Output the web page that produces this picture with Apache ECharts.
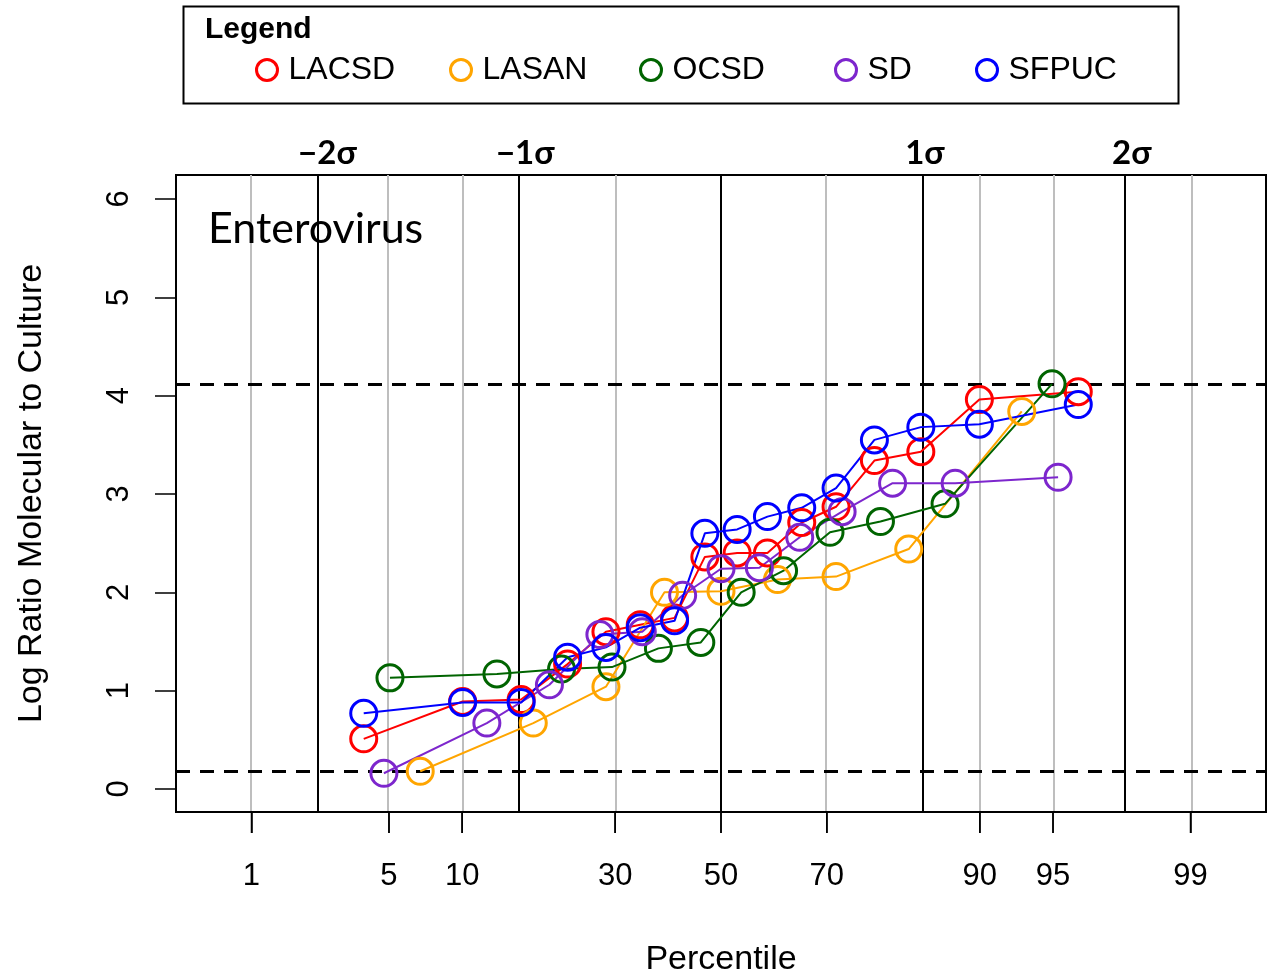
<!DOCTYPE html>
<html>
<head>
<meta charset="utf-8">
<script src="https://cdn.jsdelivr.net/npm/echarts@6/dist/echarts.min.js"></script>
<style>html,body{margin:0;padding:0;background:#fff;}#c{width:1281px;height:973px;}</style>
</head>
<body>
<div id="c"></div>
<script>
// Percentile tick labels and their normal-quantile positions (z)
const pctLabels = ['1', '5', '10', '30', '50', '70', '90', '95', '99'];
const pctZ = [-2.326, -1.645, -1.282, -0.524, 0, 0.524, 1.282, 1.645, 2.326];
const sigmaZ = [-2, -1, 0, 1, 2];
const sigmaLabelPos = [-1.95, -0.97, 1.01, 2.035];
const sigmaLabels = ['−2σ', '−1σ', '1σ', '2σ'];
const yTicks = [0, 1, 2, 3, 4, 5, 6];
const thresholds = [0.176, 4.116];
const yMin = -0.234, yMax = 6.244;

const seriesNames = ['LACSD', 'LASAN', 'OCSD', 'SD', 'SFPUC'];
const seriesColors = ['#ff0000', '#ffa500', '#006400', '#7d26cd', '#0000ff'];

// x = normal quantile (z) of each point, y = log ratio
const zLACSD = [-1.77, -1.28, -0.99, -0.76, -0.57, -0.40, -0.23, -0.08, 0.08, 0.23, 0.40, 0.57, 0.76, 0.99, 1.28, 1.77];
const yLACSD = [0.51, 0.89, 0.91, 1.27, 1.60, 1.67, 1.74, 2.36, 2.40, 2.40, 2.71, 2.87, 3.34, 3.43, 3.96, 4.04];
const zLASAN = [-1.49, -0.93, -0.57, -0.28, 0, 0.28, 0.57, 0.93, 1.49];
const yLASAN = [0.18, 0.67, 1.04, 2.00, 2.01, 2.13, 2.16, 2.44, 3.84];
const zOCSD = [-1.64, -1.11, -0.79, -0.54, -0.31, -0.10, 0.10, 0.31, 0.54, 0.79, 1.11, 1.64];
const yOCSD = [1.13, 1.17, 1.22, 1.24, 1.43, 1.49, 2.00, 2.22, 2.61, 2.72, 2.90, 4.12];
const zSD = [-1.67, -1.16, -0.85, -0.60, -0.39, -0.19, 0, 0.19, 0.39, 0.60, 0.85, 1.16, 1.67];
const ySD = [0.16, 0.67, 1.06, 1.57, 1.60, 1.97, 2.24, 2.25, 2.56, 2.82, 3.11, 3.11, 3.17];
const zSFPUC = [-1.77, -1.28, -0.99, -0.76, -0.57, -0.40, -0.23, -0.08, 0.08, 0.23, 0.40, 0.57, 0.76, 0.99, 1.28, 1.77];
const ySFPUC = [0.77, 0.88, 0.88, 1.34, 1.44, 1.64, 1.71, 2.60, 2.64, 2.77, 2.86, 3.06, 3.55, 3.68, 3.71, 3.91];

const zs = [zLACSD, zLASAN, zOCSD, zSD, zSFPUC];
const ys = [yLACSD, yLASAN, yOCSD, ySD, ySFPUC];

const legendLefts = [250, 444, 634, 829, 970];

const chart = echarts.init(document.getElementById('c'), null, {renderer: 'canvas'});

function pctFormatter(v) {
  for (let i = 0; i < pctZ.length; i++) if (Math.abs(pctZ[i] - v) < 1e-6) return pctLabels[i];
  return '';
}
function sigmaFormatter(v) {
  for (let i = 0; i < sigmaLabelPos.length; i++) if (Math.abs(sigmaLabelPos[i] - v) < 1e-6) return sigmaLabels[i];
  return '';
}

const dataSeries = seriesNames.map((name, k) => ({
  name: name,
  type: 'line',
  z: 5,
  data: zs[k].map((z, i) => [z, ys[k][i]]),
  symbol: 'circle',
  symbolSize: 26,
  itemStyle: {color: 'rgba(255,255,255,0)', borderColor: seriesColors[k], borderWidth: 3},
  lineStyle: {color: seriesColors[k], width: 2},
  emphasis: {disabled: true}
}));

const guideSeries = {
  type: 'line',
  data: [],
  z: 1,
  silent: true,
  markLine: {
    silent: true,
    symbol: ['none', 'none'],
    label: {show: false},
    animation: false,
    data: [
      ...pctZ.map(z => ({xAxis: z, lineStyle: {color: '#bebebe', width: 2, type: 'solid'}})),
      ...sigmaZ.map(z => ({xAxis: z, lineStyle: {color: '#000', width: 2, type: 'solid'}})),
      ...thresholds.map(y => ({yAxis: y, lineStyle: {color: '#000', width: 3, type: [14, 10]}}))
    ]
  }
};

// percentile tick marks below the bottom axis, placed through the axis scale
const tickSeries = {
  type: 'custom',
  name: 'ticks',
  z: 20,
  zlevel: 0,
  silent: true,
  clip: false,
  animation: false,
  data: pctZ.map(z => [z, yMin]),
  encode: {x: 0, y: 1},
  renderItem: function (params, api) {
    const p = api.coord([api.value(0), api.value(1)]);
    return {
      type: 'group',
      children: [{
        type: 'rect',
        shape: {x: p[0] - 0.75, y: p[1], width: 1.5, height: 21},
        style: {fill: '#000'}
      }]
    };
  }
};

const legends = seriesNames.map((name, k) => ({
  data: [name],
  left: legendLefts[k],
  top: 49,
  icon: 'circle',
  itemWidth: 21,
  itemHeight: 21,
  selectedMode: false,
  itemStyle: {color: 'rgba(255,255,255,0)', borderColor: seriesColors[k], borderWidth: 3},
  textStyle: {fontFamily: 'Liberation Sans', fontSize: 32, color: '#000', padding: [0, 0, 0, 6]}
}));

chart.setOption({
  animation: false,
  backgroundColor: '#fff',
  title: {
    text: 'Enterovirus',
    left: 203,
    top: 203,
    textStyle: {fontFamily: 'Lato', fontSize: 43, fontWeight: 'normal', color: '#000'}
  },
  legend: legends,
  graphic: [
    {type: 'rect', left: 181, top: 4, shape: {width: 995, height: 97}, style: {fill: 'none', stroke: '#000', lineWidth: 2}},
    {type: 'text', left: 205, top: 15, style: {text: 'Legend', font: 'bold 30px "Liberation Sans"', fill: '#000'}}
  ],
  grid: {left: 176, right: 15, top: 175, bottom: 161, show: true, borderColor: '#000', borderWidth: 2,
         backgroundColor: 'transparent', containLabel: false, outerBoundsMode: 'none'},
  xAxis: [
    {
      type: 'value', position: 'bottom', min: -2.7, max: 2.7, z: 10,
      axisLine: {show: true, onZero: false, lineStyle: {color: '#000', width: 2}},
      splitLine: {show: false},
      axisTick: {show: true, customValues: pctZ, length: 21, inside: false, lineStyle: {color: '#000', width: 1.5}},
      minorTick: {show: false},
      axisLabel: {customValues: pctZ, formatter: pctFormatter, margin: 49, fontFamily: 'Liberation Sans', fontSize: 31, color: '#000'},
      name: 'Percentile', nameLocation: 'middle', nameGap: 131,
      nameTextStyle: {fontFamily: 'Liberation Sans', fontSize: 34, color: '#000'}
    },
    {
      type: 'value', position: 'top', min: -2.7, max: 2.7,
      axisLine: {show: false, onZero: false}, splitLine: {show: false}, axisTick: {show: false},
      axisLabel: {customValues: sigmaLabelPos, formatter: sigmaFormatter, margin: 5, fontFamily: 'Lato', fontWeight: 'bold', fontSize: 33, color: '#000'}
    }
  ],
  yAxis: [
    {
      type: 'value', position: 'left', min: yMin, max: yMax, z: 10,
      axisLine: {show: true, onZero: false, lineStyle: {color: '#000', width: 2}},
      splitLine: {show: false},
      axisTick: {show: true, customValues: yTicks, length: 21, inside: false, lineStyle: {color: '#000', width: 1.5}},
      axisLabel: {customValues: yTicks, rotate: 90, margin: 41, fontFamily: 'Liberation Sans', fontSize: 31, color: '#000'},
      name: 'Log Ratio Molecular to Culture', nameLocation: 'middle', nameRotate: 90, nameGap: 127,
      nameTextStyle: {fontFamily: 'Liberation Sans', fontSize: 34, color: '#000'}
    }
  ],
  series: [guideSeries, ...dataSeries, tickSeries]
});
</script>
</body>
</html>
